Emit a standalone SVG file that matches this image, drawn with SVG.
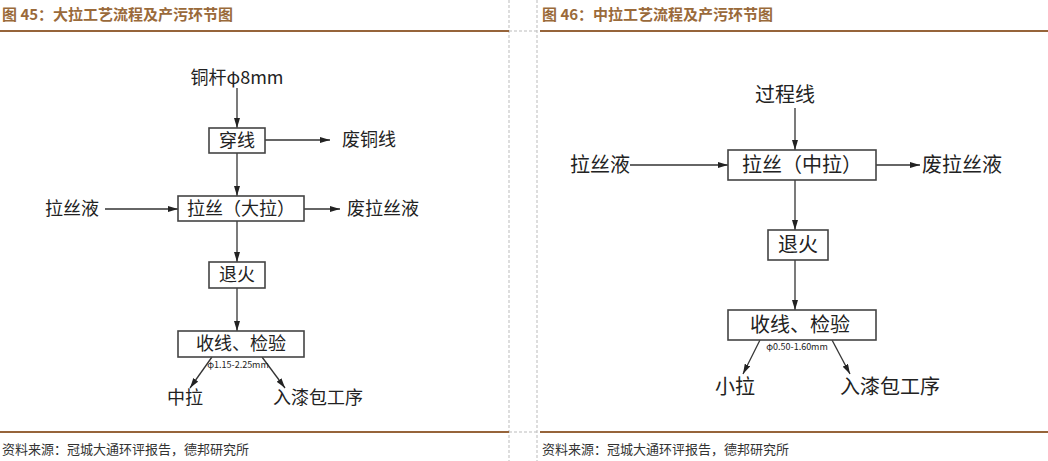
<svg xmlns="http://www.w3.org/2000/svg" width="1048" height="461" viewBox="0 0 1048 461">
<style>
.t{font-family:"Noto Sans CJK SC","Liberation Serif",serif;fill:#222}
.n{font-size:18px}
.m{font-size:20px}
.h{font-size:15px;font-weight:bold;fill:#9a6a3a}
.f{font-size:13px;fill:#333}
.s{font-size:9px}
.b{fill:#fff;stroke:#444;stroke-width:1.6}
.c line{stroke:#333;stroke-width:1.3;marker-end:url(#a)}
</style>
<defs><marker id="a" markerWidth="10" markerHeight="6" refX="10" refY="3" orient="auto" markerUnits="userSpaceOnUse"><path d="M0,0L10,3L0,6z" fill="#222"/></marker></defs>
<rect width="1048" height="461" fill="#fff"/>
<g stroke="#bbb" stroke-dasharray="3,2"><line x1="509" y1="0" x2="509" y2="461"/><line x1="537" y1="0" x2="537" y2="461"/><line x1="509" y1="31" x2="537" y2="31"/><line x1="509" y1="432" x2="537" y2="432"/></g>
<g stroke="#96643a" stroke-width="2"><line x1="0" y1="31" x2="509" y2="31"/><line x1="540" y1="31" x2="1048" y2="31"/><line x1="0" y1="432" x2="509" y2="432"/><line x1="540" y1="432" x2="1048" y2="432"/></g>
<text class="t h" x="2" y="20">图 45：大拉工艺流程及产污环节图</text>
<text class="t h" x="542" y="20">图 46：中拉工艺流程及产污环节图</text>
<text class="t f" x="2" y="454">资料来源：冠城大通环评报告，德邦研究所</text>
<text class="t f" x="542" y="454">资料来源：冠城大通环评报告，德邦研究所</text>
<g class="c">
<line x1="237" y1="88" x2="237" y2="128"/>
<line x1="265" y1="140" x2="330" y2="140"/>
<line x1="237" y1="153" x2="237" y2="196"/>
<line x1="105" y1="209" x2="178" y2="209"/>
<line x1="304" y1="209" x2="340" y2="209"/>
<line x1="237" y1="221" x2="237" y2="262"/>
<line x1="237" y1="288" x2="237" y2="331"/>
<line x1="212" y1="357" x2="190" y2="388"/>
<line x1="262" y1="357" x2="285" y2="388"/>
<line x1="795" y1="108" x2="795" y2="150"/>
<line x1="630" y1="165" x2="728" y2="165"/>
<line x1="876" y1="165" x2="920" y2="165"/>
<line x1="795" y1="180" x2="795" y2="230"/>
<line x1="795" y1="260" x2="795" y2="310"/>
<line x1="760" y1="340" x2="743" y2="374"/>
<line x1="832" y1="340" x2="850" y2="374"/>
</g>
<g id="l-top"><text class="t n" x="237" y="84" text-anchor="middle">铜杆φ8mm</text></g>
<g id="l-cx"><rect class="b" x="209" y="128" width="56" height="25"/><text class="t n" x="237" y="147" text-anchor="middle">穿线</text></g>
<g id="l-fty"><text class="t n" x="342" y="146">废铜线</text></g>
<g id="l-ls"><text class="t n" x="45" y="215">拉丝液</text></g>
<g id="l-dl"><rect class="b" x="178" y="196" width="126" height="25"/><text class="t n" x="241" y="215" text-anchor="middle">拉丝（大拉）</text></g>
<g id="l-fls"><text class="t n" x="347" y="215">废拉丝液</text></g>
<g id="l-th"><rect class="b" x="209" y="262" width="56" height="26"/><text class="t n" x="237" y="281" text-anchor="middle">退火</text></g>
<g id="l-sx"><rect class="b" x="178" y="331" width="126" height="26"/><text class="t n" x="241" y="350" text-anchor="middle">收线、检验</text><text class="t s" x="238" y="368" text-anchor="middle">φ1.15-2.25mm</text></g>
<g id="l-zl"><text class="t n" x="185" y="404" text-anchor="middle">中拉</text></g>
<g id="l-rq"><text class="t n" x="318" y="404" text-anchor="middle">入漆包工序</text></g>
<g id="r-top"><text class="t m" x="785" y="102" text-anchor="middle">过程线</text></g>
<g id="r-ls"><text class="t m" x="570" y="172">拉丝液</text></g>
<g id="r-zl"><rect class="b" x="728" y="150" width="148" height="30"/><text class="t m" x="802" y="172" text-anchor="middle">拉丝（中拉）</text></g>
<g id="r-fls"><text class="t m" x="922" y="172">废拉丝液</text></g>
<g id="r-th"><rect class="b" x="768" y="230" width="60" height="30"/><text class="t m" x="798" y="252" text-anchor="middle">退火</text></g>
<g id="r-sx"><rect class="b" x="728" y="310" width="148" height="30"/><text class="t m" x="800" y="332" text-anchor="middle">收线、检验</text><text class="t s" x="797" y="350" text-anchor="middle">φ0.50-1.60mm</text></g>
<g id="r-xl"><text class="t m" x="735" y="394" text-anchor="middle">小拉</text></g>
<g id="r-rq"><text class="t m" x="890" y="394" text-anchor="middle">入漆包工序</text></g>
</svg>
